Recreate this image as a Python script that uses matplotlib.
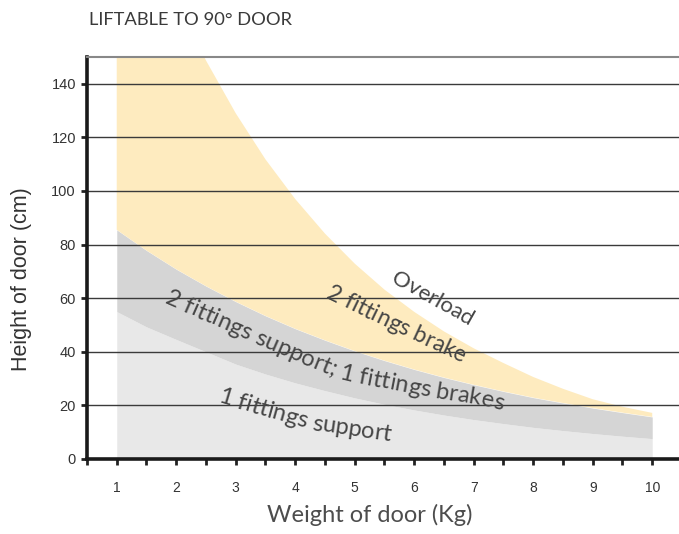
import numpy as np
import matplotlib
matplotlib.use("Agg")
import matplotlib.pyplot as plt
from matplotlib.ticker import MultipleLocator

# door weight (kg) and the band boundaries (cm)
weight = [1, 1.5, 2, 2.5, 3, 3.5, 4, 4.5, 5, 5.5, 6, 6.5, 7, 7.5, 8, 8.5, 9, 9.5, 10]
support_1 = [55, 49.3, 44.6, 40, 35.4, 31.7, 28.4, 25.5, 22.8, 20.4, 18.3, 16.4, 14.7, 13.2, 11.8, 10.6, 9.5, 8.5, 7.6]
support_2 = [85.5, 77.8, 70.8, 64.5, 58.7, 53.4, 48.6, 44.3, 40.3, 36.7, 33.4, 30.4, 27.7, 25.2, 22.9, 20.9, 19.0, 17.3, 15.7]
brake_2 = [228, 197, 171, 148.7, 129, 111.8, 97, 84.1, 72.9, 63.2, 54.9, 47.6, 41.3, 35.8, 30.6, 26.2, 22.3, 19.5, 17.2]
x_ticks = [1, 2, 3, 4, 5, 6, 7, 8, 9, 10]
y_ticks = [0, 20, 40, 60, 80, 100, 120, 140]

TXT = "#333333"
fig = plt.figure(figsize=(6.79, 5.34), dpi=100)
ax = fig.add_axes([87/679, 1-459/534, 1-87/679, (459-57)/534])

ax.fill_between(weight, 0, support_1, color="#e8e8e8", lw=0)
ax.fill_between(weight, support_1, support_2, color="#d5d5d5", lw=0)
ax.fill_between(weight, support_2, brake_2, color="#feebbf", lw=0)

ax.set_xlim(0.5, 10.45)
ax.set_ylim(0, 150)
ax.set_xticks(x_ticks)
ax.xaxis.set_minor_locator(MultipleLocator(0.5))
ax.set_yticks(y_ticks)
ax.grid(axis="y", color="#3a3a3a", lw=1)
ax.tick_params(axis="x", which="both", direction="out", length=4, width=2, color="#222", pad=12,
               labelsize=10, labelcolor=TXT)
ax.tick_params(axis="y", direction="out", length=4, width=2, color="#222", pad=4,
               labelsize=10.5, labelcolor=TXT)
for lab in ax.get_xticklabels() + ax.get_yticklabels():
    lab.set_family("Liberation Sans")
for s in ["left", "bottom"]:
    ax.spines[s].set_linewidth(2.6)
    ax.spines[s].set_color("#1a1a1a")
ax.spines["right"].set_visible(False)
ax.spines["top"].set_color("#888888")
ax.spines["top"].set_linewidth(1.5)

fig.text(89/679, 1-20/534, "LIFTABLE TO 90° DOOR", family="Lato", size=13.2, color="#3a3a3a", va="center")
fig.text(22/679, 1-279/534, "Height of door (cm)", family="Liberation Sans", size=15.5, color=TXT,
         rotation=90, ha="center", va="center")
fig.text(370/679, 1-515/534, "Weight of door (Kg)", family="Lato", size=17,
         color="#4d4d4d", ha="center", va="center")

fig.canvas.draw()
rend = fig.canvas.get_renderer()


def curved_text(text, xs, ys, size):
    # put characters one by one along a guide line given in data coords
    t0 = ax.text(0, 0, "x", family="Lato", size=size)
    fp = t0.get_fontproperties()
    t0.remove()
    pts = ax.transData.transform(np.column_stack([xs, ys]))
    d = np.hypot(np.diff(pts[:, 0]), np.diff(pts[:, 1]))
    cum = np.concatenate([[0], np.cumsum(d)])

    def at(s):
        if s > cum[-1]:  # run on straight past the last guide point
            u = (pts[-1] - pts[-2]) / d[-1]
            return pts[-1] + u * (s - cum[-1])
        return np.array([np.interp(s, cum, pts[:, 0]), np.interp(s, cum, pts[:, 1])])

    xx = rend.get_text_width_height_descent("xx", fp, ismath=False)[0]
    pos = 0
    for ch in text:
        w = rend.get_text_width_height_descent("x" + ch + "x", fp, ismath=False)[0] - xx
        c = pos + w / 2
        p = at(c)
        a1 = at(max(c - 6, 0))
        a2 = at(c + 6)
        ang = np.degrees(np.arctan2(a2[1] - a1[1], a2[0] - a1[0]))
        dx, dy = ax.transData.inverted().transform(p)
        ax.text(dx, dy, ch, fontproperties=fp, color="#454545", ha="center", va="baseline",
                rotation=ang, rotation_mode="anchor")
        pos += w


curved_text("Overload", [5.59, 6.79], [66.2, 51.2], 16)
curved_text("2 fittings brake", [4.50, 5.96, 6.88], [60.1, 44.4, 35.0], 16.5)
curved_text("2 fittings support; 1 fittings brakes",
            [1.79, 3.20, 4.08, 4.79, 6.09, 7.10, 7.60], [58.2, 44.4, 35.8, 29.4, 23.8, 20.1, 17.5], 17)
curved_text("1 fittings support", [2.68, 3.41, 4.30, 5.56], [21.2, 16.3, 10.7, 6.6], 17)

fig.savefig("out.png", dpi=100)
